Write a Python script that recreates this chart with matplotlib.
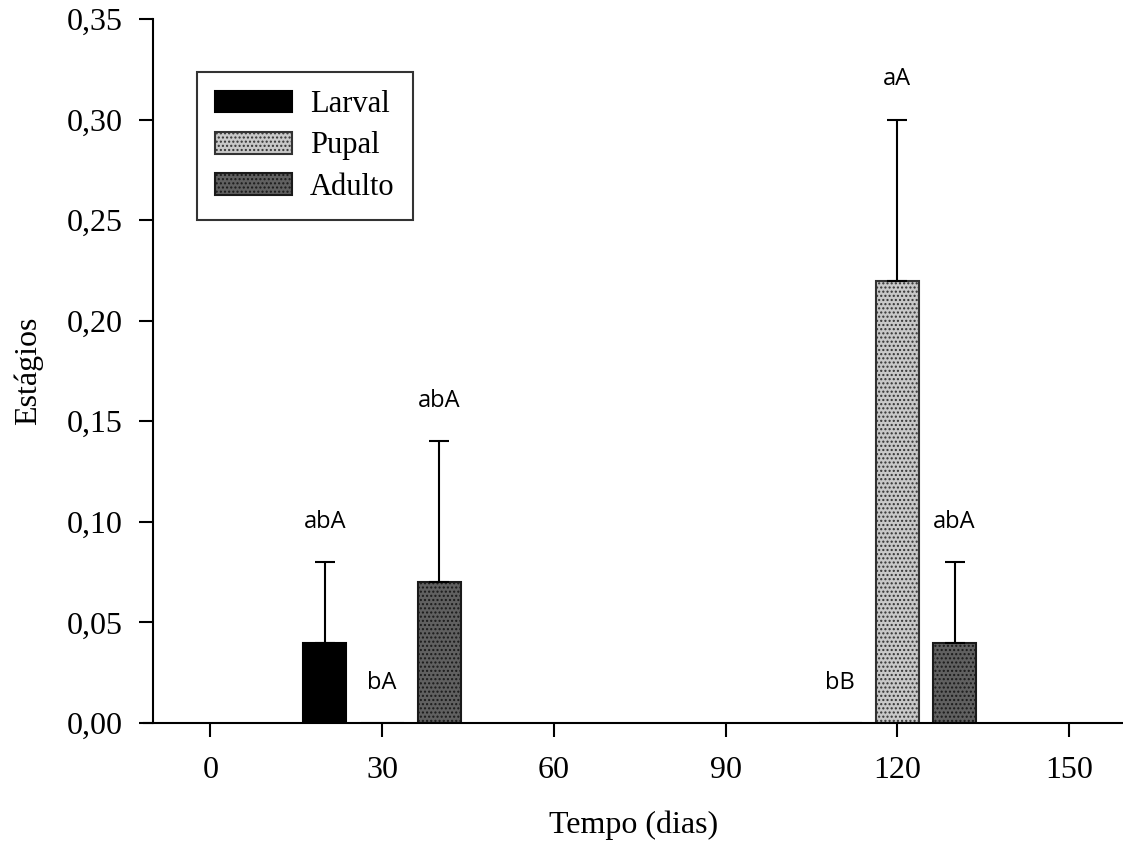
import matplotlib
matplotlib.use("Agg")
import matplotlib.pyplot as plt
import numpy as np
from matplotlib.ticker import FuncFormatter

# data
days = [30, 120]
stages = ["Larval", "Pupal", "Adulto"]
larval = [0.04, 0.0]
pupal = [0.0, 0.22]
adulto = [0.07, 0.04]
larval_err = [0.04, 0.0]
pupal_err = [0.0, 0.08]
adulto_err = [0.07, 0.04]
larval_txt = ["abA", "bB"]
pupal_txt = ["bA", "aA"]
adulto_txt = ["abA", "abA"]

x_ticks = [0, 30, 60, 90, 120, 150]
y_ticks = [0.0, 0.05, 0.10, 0.15, 0.20, 0.25, 0.30, 0.35]

serif = ["Liberation Serif", "DejaVu Serif"]
plt.rcParams["font.family"] = serif
plt.rcParams["hatch.linewidth"] = 1.0

fig = plt.figure(figsize=(11.23, 8.5), dpi=100)
ax = fig.add_axes([0.1282, 0.1494, 0.8718, 0.8282])

width = 7.5
offsets = [-10, 0, 10]
styles = [
    dict(color="black", edgecolor="black", hatch=None),
    dict(color="#c8c8c8", edgecolor="#333333", hatch="...."),
    dict(color="#606060", edgecolor="#1a1a1a", hatch="...."),
]
series = [larval, pupal, adulto]
errors = [larval_err, pupal_err, adulto_err]
texts = [larval_txt, pupal_txt, adulto_txt]

for name, vals, errs, txt, off, st in zip(stages, series, errors, texts, offsets, styles):
    xs = np.array(days) + off
    ax.bar(xs, vals, width=width, color=st["color"], edgecolor=st["edgecolor"],
           hatch=st["hatch"], linewidth=1.5, label=name, zorder=2)
    for x, v, e, t in zip(xs, vals, errs, txt):
        if v > 0:
            ax.errorbar(x, v, yerr=[[0], [e]], fmt="none", ecolor="black",
                        elinewidth=1.5, capsize=7, capthick=1.5, zorder=3)
        ax.text(x, v + e + 0.02, t, ha="center", va="center", fontsize=17,
                family=["Open Sans", "DejaVu Sans"])

ax.set_xlim(-11.6, 159.4)
ax.set_ylim(0, 0.35)
ax.set_xticks(x_ticks)
ax.set_yticks(y_ticks)
ax.yaxis.set_major_formatter(FuncFormatter(lambda v, p: f"{v:.2f}".replace(".", ",")))
ax.tick_params(axis="both", direction="out", length=10, width=1.5, labelsize=23)
ax.tick_params(axis="y", pad=12)
ax.tick_params(axis="x", pad=14)

for s in ["top", "right"]:
    ax.spines[s].set_visible(False)
for s in ["left", "bottom"]:
    ax.spines[s].set_linewidth(1.5)
ax.spines["left"].set_position(("data", -10))

ax.set_xlabel("Tempo (dias)", fontsize=23, labelpad=18)
ax.set_ylabel("Estágios", fontsize=23, labelpad=17)

leg = ax.legend(loc="upper left", bbox_to_anchor=(0.054, 0.925), fontsize=22,
                frameon=True, fancybox=False, edgecolor="black",
                handlelength=2.5, handleheight=0.72, borderpad=0.6,
                labelspacing=0.4, handletextpad=0.6, borderaxespad=0)
leg.get_frame().set_linewidth(1.5)

fig.savefig("out.png", dpi=100)
